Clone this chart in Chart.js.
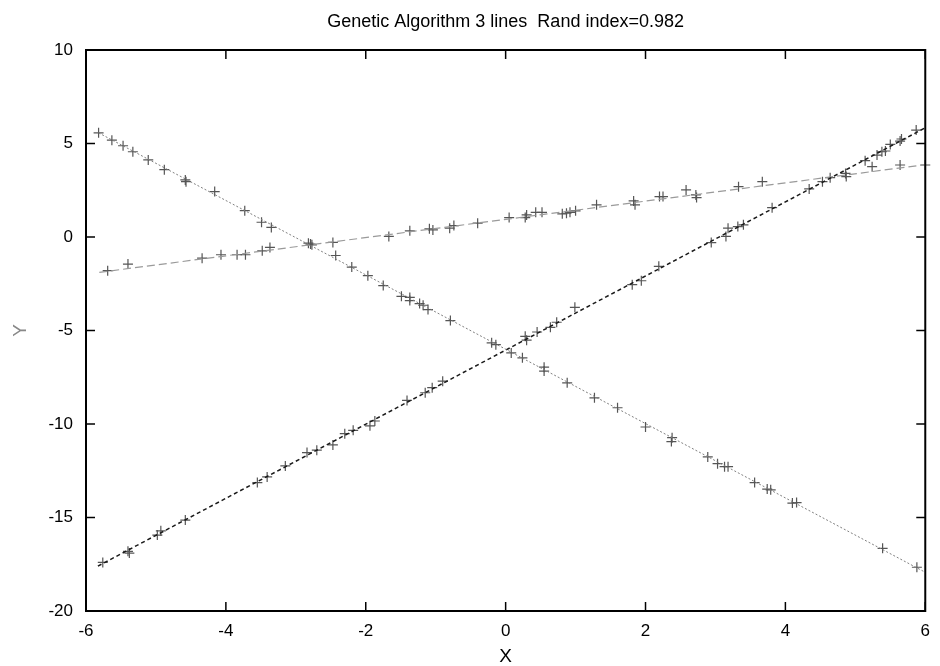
<!DOCTYPE html>
<html>
<head>
<meta charset="utf-8">
<script src="https://cdn.jsdelivr.net/npm/chart.js@4"></script>
<style>
  html, body { margin: 0; padding: 0; background: #fff; }
  #wrap { width: 940px; height: 666px; }
</style>
</head>
<body>
<div id="wrap"><canvas id="gaChart" width="940" height="666"></canvas></div>
<script>
// cluster A (falling line)
const xA = [-5.82, -5.63, -5.47, -5.33, -5.11, -4.88, -4.58, -4.57, -4.16, -3.73, -3.49, -3.35, -2.82, -2.77, -2.43, -2.20, -1.97, -1.75, -1.49, -1.37, -1.37, -1.23, -1.18, -1.11, -0.79, -0.20, -0.14, 0.08, 0.24, 0.55, 0.55, 0.88, 1.27, 1.60, 2.00, 2.38, 2.37, 2.89, 3.03, 3.13, 3.18, 3.56, 3.74, 3.79, 4.10, 4.16, 5.39, 5.88];
const yA = [5.57, 5.18, 4.88, 4.56, 4.12, 3.60, 3.05, 2.96, 2.43, 1.41, 0.79, 0.51, -0.33, -0.42, -0.99, -1.61, -2.07, -2.60, -3.17, -3.23, -3.40, -3.56, -3.65, -3.88, -4.47, -5.66, -5.76, -6.20, -6.46, -6.96, -7.17, -7.80, -8.60, -9.13, -10.16, -10.73, -10.94, -11.76, -12.12, -12.28, -12.28, -13.13, -13.48, -13.52, -14.23, -14.20, -16.65, -17.66];

// cluster B (rising line)
const xB = [-5.76, -5.40, -5.38, -4.98, -4.93, -4.58, -3.55, -3.41, -3.15, -2.84, -2.70, -2.47, -2.30, -2.18, -1.94, -1.87, -1.41, -1.15, -1.05, -0.90, 0.28, 0.30, 0.45, 0.64, 0.73, 0.99, 1.81, 1.94, 2.19, 2.94, 3.18, 3.15, 3.32, 3.40, 3.81, 4.34, 4.53, 4.64, 5.14, 5.31, 5.38, 5.43, 5.50, 5.64, 5.66, 5.87];
const yB = [-17.40, -16.81, -16.90, -15.94, -15.71, -15.14, -13.13, -12.83, -12.24, -11.53, -11.40, -11.12, -10.52, -10.34, -10.10, -9.84, -8.74, -8.33, -8.06, -7.71, -5.31, -5.52, -5.08, -4.83, -4.56, -3.76, -2.55, -2.34, -1.57, -0.30, 0.47, 0.03, 0.56, 0.65, 1.57, 2.57, 2.96, 3.17, 4.08, 4.38, 4.56, 4.60, 4.95, 5.13, 5.24, 5.72];

// cluster C (shallow line)
const xC = [-5.69, -5.40, -4.34, -4.07, -3.84, -3.72, -3.48, -3.37, -2.79, -2.47, -1.67, -1.37, -1.09, -1.04, -0.80, -0.74, -0.40, 0.05, 0.28, 0.30, 0.43, 0.52, 0.81, 0.87, 0.92, 1.00, 1.30, 1.83, 1.85, 2.20, 2.25, 2.58, 2.72, 2.73, 3.33, 3.67, 4.86, 4.87, 5.24, 5.64, 6.00];
const yC = [-1.80, -1.45, -1.13, -0.95, -0.95, -0.95, -0.74, -0.56, -0.38, -0.29, 0.03, 0.33, 0.44, 0.38, 0.47, 0.61, 0.74, 1.04, 1.04, 1.18, 1.32, 1.32, 1.24, 1.27, 1.32, 1.40, 1.72, 1.93, 1.72, 2.16, 2.16, 2.52, 2.25, 2.11, 2.69, 2.96, 3.40, 3.23, 3.76, 3.85, 3.85];

// fitted lines (end points)
const fitAx = [-5.82, 6], fitAy = [5.57, -17.93];
const fitBx = [-5.83, 6], fitBy = [-17.6, 5.84];
const fitCx = [-5.81, 6], fitCy = [-1.89, 3.87];

const xTicks = [-6, -4, -2, 0, 2, 4, 6];
const yTicks = [-20, -15, -10, -5, 0, 5, 10];

const titleText = 'Genetic Algorithm 3 lines  Rand index=0.982';

const toPts = (xs, ys) => xs.map((x, i) => ({ x, y: ys[i] }));

const pointSet = (xs, ys) => ({
  data: toPts(xs, ys),
  showLine: false,
  pointStyle: 'cross',
  pointRadius: 5,
  pointBorderWidth: 1.2,
  pointBorderColor: '#555',
  pointBackgroundColor: '#555',
  clip: false
});

const lineSet = (xs, ys, color, dash, width) => ({
  data: toPts(xs, ys),
  showLine: true,
  pointRadius: 0,
  borderColor: color,
  borderWidth: width,
  borderDash: dash,
  fill: false
});

// frame + inward ticks like gnuplot
const framePlugin = {
  id: 'frameTicks',
  afterDraw(chart) {
    const { ctx, chartArea: a, scales } = chart;
    ctx.save();
    ctx.strokeStyle = '#000';
    ctx.lineWidth = 1.5;
    const seg = (x1, y1, x2, y2) => {
      ctx.beginPath(); ctx.moveTo(x1, y1); ctx.lineTo(x2, y2); ctx.stroke();
    };
    xTicks.forEach(v => {
      const px = scales.x.getPixelForValue(v);
      seg(px, a.bottom, px, a.bottom - 9);
      seg(px, a.top, px, a.top + 9);
    });
    yTicks.forEach(v => {
      const py = scales.y.getPixelForValue(v);
      seg(a.left, py, a.left + 9, py);
      seg(a.right, py, a.right - 9, py);
    });
    ctx.lineWidth = 2;
    ctx.strokeRect(a.left, a.top, a.right - a.left, a.bottom - a.top);
    ctx.restore();
  }
};

Chart.defaults.font.family = '"Liberation Sans", Arial, sans-serif';
Chart.defaults.color = '#000';

new Chart(document.getElementById('gaChart').getContext('2d'), {
  type: 'scatter',
  data: {
    datasets: [
      lineSet(fitAx, fitAy, '#808080', [2, 2], 1),
      lineSet(fitBx, fitBy, '#1a1a1a', [4, 3], 1.5),
      lineSet(fitCx, fitCy, '#9a9a9a', [8, 4], 1.2),
      pointSet(xA, yA),
      pointSet(xB, yB),
      pointSet(xC, yC)
    ]
  },
  options: {
    responsive: false,
    animation: false,
    layout: { padding: { left: 0, right: 9, top: 0, bottom: 0 } },
    plugins: {
      legend: { display: false },
      tooltip: { enabled: false },
      title: {
        display: true,
        fullSize: false,
        text: titleText,
        color: '#000',
        font: { size: 18, weight: 'normal' },
        padding: { top: 11, bottom: 17.4 }
      }
    },
    scales: {
      x: {
        type: 'linear',
        min: -6,
        max: 6,
        afterFit(scale) { scale.height = 55; },
        afterBuildTicks(scale) { scale.ticks = xTicks.map(v => ({ value: v })); },
        grid: { display: false, drawTicks: false },
        border: { display: false },
        ticks: { font: { size: 17 }, padding: 10, color: '#000' },
        title: { display: true, text: 'X', color: '#000', font: { size: 19 }, padding: { top: 0, bottom: -2 } }
      },
      y: {
        type: 'linear',
        min: -20,
        max: 10,
        afterFit(scale) { scale.width = 86; },
        afterBuildTicks(scale) { scale.ticks = yTicks.map(v => ({ value: v })); },
        grid: { display: false, drawTicks: false },
        border: { display: false },
        ticks: { font: { size: 17 }, padding: 13, color: '#000' },
        title: { display: true, text: 'Y', color: '#888', font: { size: 19 }, padding: { top: 9, bottom: 0 } }
      }
    }
  },
  plugins: [framePlugin]
});
</script>
</body>
</html>
